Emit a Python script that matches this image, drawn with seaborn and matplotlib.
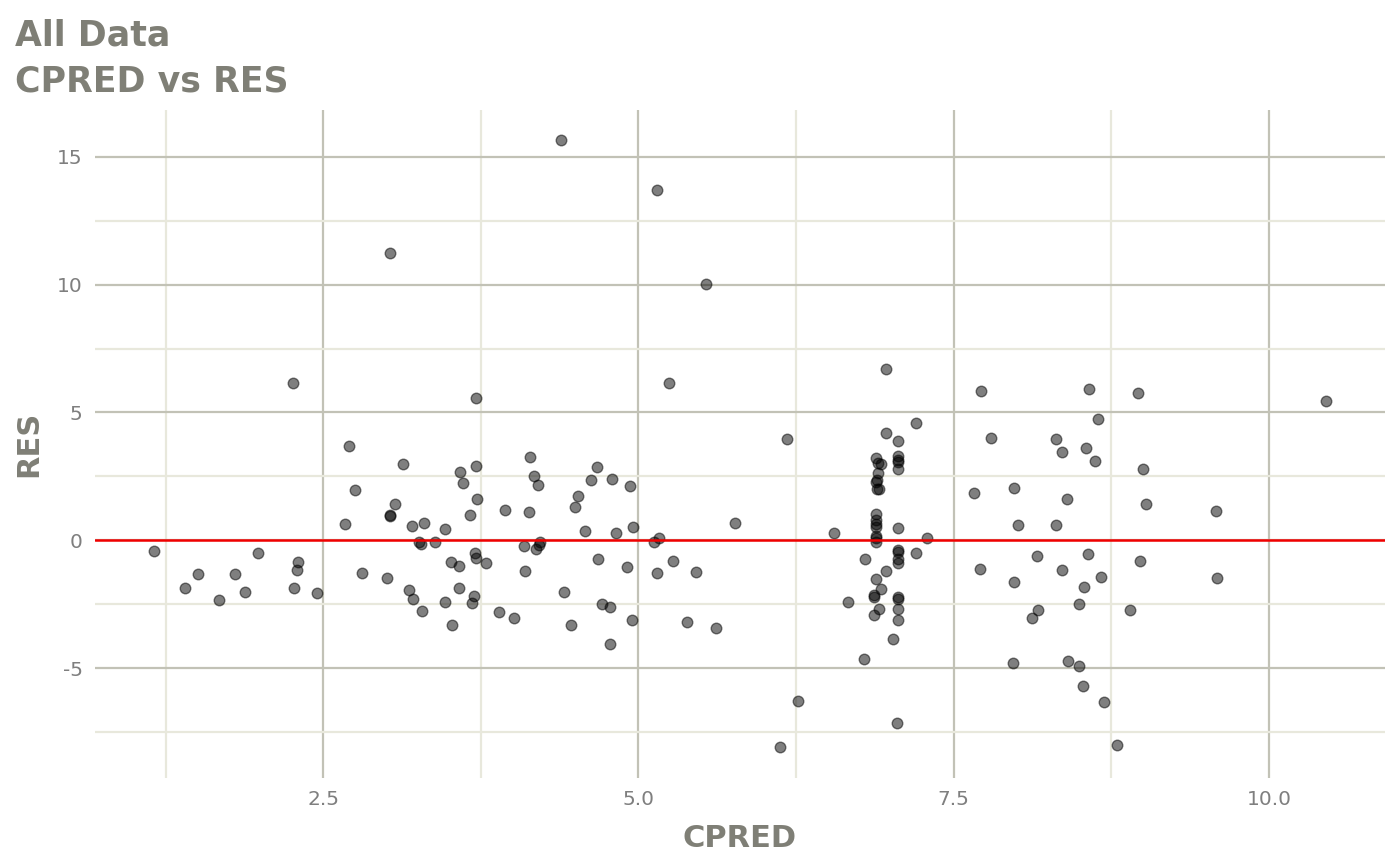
import matplotlib
matplotlib.use("Agg")
import matplotlib.pyplot as plt
from matplotlib.ticker import MultipleLocator
import seaborn as sns
import pandas as pd

# CPRED / RES values
cpred = [
    1.156, 1.406, 1.507, 1.671, 1.803, 1.877, 1.985, 2.260, 2.265, 2.302, 2.292, 2.451,
    2.675, 2.707, 2.749, 2.810, 3.002, 3.032, 3.029, 3.030, 3.066, 3.129, 3.177, 3.212,
    3.206, 3.259, 3.272, 3.299, 3.285, 3.383, 3.468, 3.468, 3.513, 3.523, 3.573, 3.573,
    3.587, 3.608, 3.661, 3.692, 3.682, 3.700, 3.708, 3.711, 3.714, 3.719, 3.787, 3.896,
    3.941, 4.013, 4.094, 4.102, 4.128, 4.139, 4.168, 4.184, 4.208, 4.216, 4.205, 4.388,
    4.409, 4.461, 4.493, 4.517, 4.578, 4.625, 4.673, 4.678, 4.710, 4.776, 4.776, 4.792,
    4.818, 4.911, 4.929, 4.945, 4.956, 5.125, 5.159, 5.146, 5.149, 5.244, 5.270, 5.384,
    5.458, 5.537, 5.617, 5.767,
    6.177, 6.124, 6.269, 6.550, 6.665, 6.798, 6.792,
    6.885, 6.903, 6.925, 6.898, 6.885, 6.890, 6.906, 6.890, 6.885, 6.885, 6.885, 6.885,
    6.885, 6.885, 6.885, 6.885, 6.922, 6.872, 6.872, 6.906, 6.872,
    6.962, 6.962, 6.964, 7.017, 7.049,
    7.062, 7.062, 7.062, 7.062, 7.062, 7.062, 7.062, 7.062, 7.062, 7.062, 7.062, 7.062,
    7.062, 7.062, 7.200, 7.202, 7.292,
    7.662, 7.707, 7.715, 7.794, 7.969, 7.979, 7.979, 8.008, 8.122, 8.159, 8.169, 8.314,
    8.312, 8.360, 8.360, 8.397, 8.405, 8.494, 8.494, 8.528, 8.537, 8.552, 8.568, 8.574,
    8.624, 8.645, 8.667, 8.693, 8.796, 8.897, 8.962, 8.976, 9.002, 9.023, 9.583, 9.588,
    10.453,
]
res = [
    -0.41, -1.87, -1.33, -2.34, -1.33, -2.01, -0.49, 6.17, -1.88, -0.84, -1.16, -2.05,
    0.62, 3.70, 1.97, -1.27, -1.47, 11.24, 0.99, 0.93, 1.41, 2.97, -1.94, -2.29,
    0.57, -0.06, -0.15, 0.69, -2.78, -0.06, 0.44, -2.41, -0.84, -3.32, -1.00, -1.87,
    2.67, 2.25, 0.98, -2.18, -2.44, -0.51, -0.71, 2.92, 5.58, 1.61, -0.89, -2.80,
    1.17, -3.03, -0.23, -1.19, 1.09, 3.27, 2.53, -0.33, -0.19, -0.06, 2.16, 15.66,
    -2.04, -3.32, 1.31, 1.73, 0.36, 2.36, 2.87, -0.75, -2.51, -2.61, -4.06, 2.39,
    0.27, -1.06, 2.12, -3.13, 0.51, -0.08, 0.08, -1.27, 13.71, 6.14, -0.80, -3.21,
    -1.24, 10.03, -3.43, 0.68,
    3.96, -8.10, -6.28, 0.28, -2.41, -0.73, -4.64,
    3.21, 3.01, 2.98, 2.62, 2.29, 2.34, 1.99, 1.99, 1.02, 0.79, 0.64, 0.53,
    0.17, 0.08, -0.06, -1.52, -1.92, -2.14, -2.21, -2.70, -2.93,
    6.69, 4.20, -1.20, -3.88, -7.16,
    3.90, 3.30, 3.14, 3.06, 2.78, 0.49, -0.38, -0.44, -0.75, -0.90, -2.21, -2.31,
    -2.70, -3.12, -0.51, 4.59, 0.10,
    1.86, -1.11, 5.83, 4.00, -4.82, 2.04, -1.65, 0.59, -3.05, -0.60, -2.72, 3.96,
    0.59, 3.47, -1.15, 1.61, -4.71, -2.51, -4.92, -5.70, -1.82, 3.60, -0.55, 5.91,
    3.11, 4.76, -1.44, -6.32, -8.03, -2.72, 5.75, -0.80, 2.78, 1.42, 1.16, -1.48,
    5.45,
]

df = pd.DataFrame({"CPRED": cpred, "RES": res})

title_col = "#7f7f76"
tick_col = "#7f7f7f"
major_col = "#c2c2b6"
minor_col = "#e8e8dc"

sns.set_theme(style="white")
plt.rcParams["font.family"] = ["DejaVu Sans"]

fig, ax = plt.subplots(figsize=(14, 8.65), dpi=100)
fig.subplots_adjust(left=0.068, right=0.989, top=0.8732, bottom=0.101)

ax.xaxis.set_major_locator(MultipleLocator(2.5))
ax.xaxis.set_minor_locator(MultipleLocator(1.25))
ax.yaxis.set_major_locator(MultipleLocator(5))
ax.yaxis.set_minor_locator(MultipleLocator(2.5))
ax.grid(which="minor", color=minor_col, linewidth=1.6, zorder=0)
ax.grid(which="major", color=major_col, linewidth=1.6, zorder=0)
ax.set_axisbelow(True)

sns.scatterplot(data=df, x="CPRED", y="RES", ax=ax, color="black", alpha=0.5,
                s=58, edgecolor="black", linewidth=1.0, zorder=3, legend=False)
ax.axhline(0, color="#f00000", linewidth=1.8, zorder=4)

x0, x1 = min(cpred), max(cpred)
y0, y1 = min(res), max(res)
ax.set_xlim(x0 - 0.05 * (x1 - x0), x1 + 0.05 * (x1 - x0))
ax.set_ylim(y0 - 0.05 * (y1 - y0), y1 + 0.05 * (y1 - y0))

ax.set_yticks([-5, 0, 5, 10, 15])
ax.set_yticklabels(["-5", "0", "5", "10", "15"])
ax.set_xticks([2.5, 5.0, 7.5, 10.0])
ax.set_xticklabels(["2.5", "5.0", "7.5", "10.0"])
ax.tick_params(which="major", length=5, width=1.5, color=tick_col, labelcolor=tick_col,
               labelsize=14.5, pad=4)
ax.tick_params(which="minor", length=0)

for spine in ["top", "right", "bottom", "left"]:
    ax.spines[spine].set_visible(False)

ax.set_xlabel("CPRED", fontsize=22, weight="bold", color=title_col, labelpad=11)
ax.set_ylabel("RES", fontsize=22, weight="bold", color=title_col, labelpad=10)

fig.text(15 / 1400, 1 - 45 / 865, "All Data", fontsize=25, weight="bold",
         color=title_col, ha="left", va="baseline")
fig.text(15 / 1400, 1 - 92 / 865, "CPRED vs RES", fontsize=25, weight="bold",
         color=title_col, ha="left", va="baseline")

plt.savefig("out.png", dpi=100)
plt.close()
